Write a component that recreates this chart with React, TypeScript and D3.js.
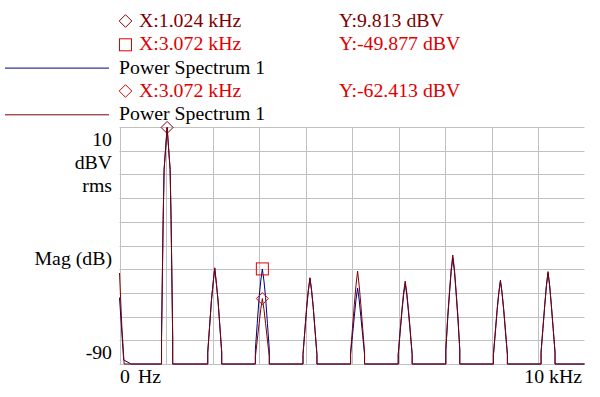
import React from "react";
import * as d3 from "d3";

// ---- data ----
const harmonicFreqs = [1.024, 2.048, 3.072, 4.096, 5.12, 6.144, 7.168, 8.192, 9.216]; // kHz
const mainOffsets = [-0.12, -0.12, -0.1, -0.085, -0.065, 0, 0.065, 0.085, 0.1, 0.12, 0.12];
const binOffsets = [-0.15, -0.15, -0.11, -0.07, -0.035, 0, 0.035, 0.07, 0.11, 0.15, 0.15];

// Power Spectrum 1 (navy)
const blueDC: [number, number][] = [[0, -62], [0.09, -88.3], [0.25, -90]];
const bluePeaks = [
  [-90, -79, -50, -29, -8, 9.8, -8, -29, -50, -79, -90],
  [-90, -85, -74, -63, -56, -49.6, -56, -63, -74, -85, -90],
  [-90, -84, -73, -62, -55, -49.9, -55, -62, -73, -84, -90],
  [-90, -86, -76, -66, -59, -53.8, -59, -66, -76, -86, -90],
  [-90, -86, -78, -70, -63, -58, -63, -70, -78, -86, -90],
  [-90, -86, -77, -68, -61, -56, -61, -68, -77, -86, -90],
  [-90, -84, -71, -60, -51, -45.3, -51, -60, -71, -84, -90],
  [-90, -86, -77, -67, -60, -55, -60, -67, -77, -86, -90],
  [-90, -85, -75, -65, -57, -51.5, -57, -65, -75, -85, -90],
];
// Power Spectrum 1 (maroon)
const redDC: [number, number][] = [[0, -51.6], [0.05, -74], [0.1, -90]];
const redPeaks = [
  [-90, -79, -50, -29, -8, 9.813, -8, -29, -50, -79, -90],
  [-90, -85, -74, -63, -56, -49.4, -56, -63, -74, -85, -90],
  [-90, -87, -80, -73, -67, -62.4, -67, -73, -80, -87, -90],
  [-90, -86, -76, -66, -59, -53.6, -59, -66, -76, -86, -90],
  [-90, -85, -75, -65, -57, -50.8, -57, -65, -75, -85, -90],
  [-90, -86, -76, -67, -60, -55, -60, -67, -76, -86, -90],
  [-90, -84, -70, -59, -50, -44, -50, -59, -70, -84, -90],
  [-90, -86, -76, -67, -60, -54.6, -60, -67, -76, -86, -90],
  [-90, -85, -75, -65, -57, -51, -57, -65, -75, -85, -90],
];
const xEnd = 10;

const markers = [
  { shape: "diamond", f: 1.024, v: 9.813, color: "#800000" },
  { shape: "square", f: 3.072, v: -49.877, color: "#e00000" },
  { shape: "diamond", f: 3.072, v: -62.413, color: "#e00000" },
];
const headerRows = [
  { marker: "diamond", x: "X:1.024 kHz", y: "Y:9.813 dBV", color: "#800000" },
  { marker: "square", x: "X:3.072 kHz", y: "Y:-49.877 dBV", color: "#e00000" },
  { marker: "line", label: "Power Spectrum 1", color: "#000080" },
  { marker: "diamond", x: "X:3.072 kHz", y: "Y:-62.413 dBV", color: "#e00000" },
  { marker: "line", label: "Power Spectrum 1", color: "#800000" },
];
const yLabels = [
  { text: "10", y: 145.5 },
  { text: "dBV", y: 168.5 },
  { text: "rms", y: 191.7 },
  { text: "Mag (dB)", y: 264.5 },
  { text: "-90", y: 359 },
];
const yGridValues = [-90, -80, -70, -60, -50, -40, -30, -20, -10, 0, 10];
const xGridValues = [0, 1, 2, 3, 4, 5, 6, 7, 8, 9];

function buildTrace(dc: [number, number][], peaks: number[][]): [number, number][] {
  const pts: [number, number][] = [...dc];
  harmonicFreqs.forEach((f, i) => {
    const offs = i === 0 ? mainOffsets : binOffsets;
    peaks[i].forEach((v, j) => pts.push([f + offs[j], v]));
  });
  pts.push([xEnd, -90]);
  return pts;
}

export default function App() {
  const x = d3.scaleLinear().domain([0, 10]).range([119.5, 584.5]);
  const y = d3.scaleLinear().domain([-90, 10]).range([364, 127]);
  const line = d3
    .line<[number, number]>()
    .x((d) => x(d[0]))
    .y((d) => y(d[1]));
  const blue = buildTrace(blueDC, bluePeaks);
  const red = buildTrace(redDC, redPeaks);
  const font = "'Liberation Serif', 'Times New Roman', serif";
  const fs = 19.8;

  const diamond = (cx: number, cy: number, r: number) =>
    `M${cx},${cy - r}L${cx + r},${cy}L${cx},${cy + r}L${cx - r},${cy}Z`;

  const rowY = [27, 50.3, 73.6, 97, 120.3];

  return (
    <svg width={600} height={397} style={{ position: "absolute", left: 0, top: 0, background: "#fff" }}>
      <rect x={0} y={0} width={600} height={397} fill="#fff" />
      {/* grid */}
      {yGridValues.map((v) => (
        <line key={"h" + v} x1={x(0)} x2={x(10)} y1={Math.round(y(v)) + 0.5} y2={Math.round(y(v)) + 0.5} stroke="#c0c0c0" strokeWidth={1} />
      ))}
      {xGridValues.map((v) => (
        <line key={"v" + v} x1={Math.round(x(v)) + 0.5} x2={Math.round(x(v)) + 0.5} y1={y(10)} y2={y(-90)} stroke="#c0c0c0" strokeWidth={1} />
      ))}
      {/* traces */}
      <path d={line(blue) || ""} fill="none" stroke="#000080" strokeWidth={1} />
      <path d={line(red) || ""} fill="none" stroke="#800000" strokeWidth={1} />
      {/* markers on plot */}
      {markers.map((m, i) =>
        m.shape === "diamond" ? (
          <path key={i} d={diamond(x(m.f), y(m.v), 6)} fill="none" stroke={m.color} strokeWidth={1} />
        ) : (
          <rect key={i} x={x(m.f) - 6} y={y(m.v) - 6} width={12} height={12} fill="none" stroke={m.color} strokeWidth={1} />
        )
      )}
      {/* header */}
      {headerRows.map((r, i) => {
        const by = rowY[i];
        if (r.marker === "line") {
          return (
            <g key={i}>
              <line x1={5} x2={109} y1={by - 5.5} y2={by - 5.5} stroke={r.color} strokeWidth={1} />
              <text x={119} y={by} fontFamily={font} fontSize={fs} fill="#000">{r.label}</text>
            </g>
          );
        }
        return (
          <g key={i}>
            {r.marker === "diamond" ? (
              <path d={diamond(125.5, by - 6, 6.3)} fill="none" stroke={r.color} strokeWidth={1} />
            ) : (
              <rect x={119.5} y={by - 11.5} width={12} height={12} fill="none" stroke={r.color} strokeWidth={1} />
            )}
            <text x={139} y={by} fontFamily={font} fontSize={fs} fill={r.color}>{r.x}</text>
            <text x={339} y={by} fontFamily={font} fontSize={fs} fill={r.color}>{r.y}</text>
          </g>
        );
      })}
      {/* y labels */}
      {yLabels.map((l) => (
        <text key={l.text} x={112} y={l.y} textAnchor="end" fontFamily={font} fontSize={fs} fill="#000">{l.text}</text>
      ))}
      {/* x labels */}
      <text x={120} y={383} fontFamily={font} fontSize={fs} fill="#000">0</text>
      <text x={138} y={383} fontFamily={font} fontSize={fs} fill="#000">Hz</text>
      <text x={582} y={383} textAnchor="end" fontFamily={font} fontSize={fs} fill="#000">10 kHz</text>
    </svg>
  );
}
